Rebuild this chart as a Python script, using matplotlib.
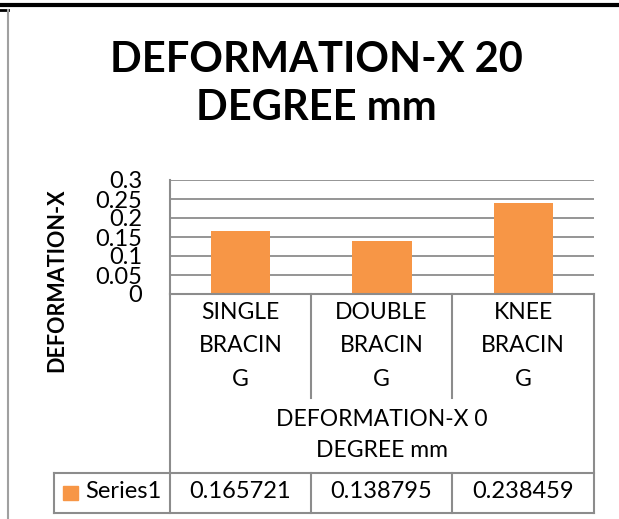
import matplotlib
matplotlib.use("Agg")
import matplotlib.pyplot as plt
from matplotlib.lines import Line2D
from matplotlib.patches import Rectangle

categories = ["SINGLE BRACING", "DOUBLE BRACING", "KNEE BRACING"]
values = [0.165721, 0.138795, 0.238459]
series_name = "Series1"
title = "DEFORMATION-X 20\nDEGREE mm"
x_title = "DEFORMATION-X 0\nDEGREE mm"
y_title = "DEFORMATION-X"
y_ticks = [0, 0.05, 0.1, 0.15, 0.2, 0.25, 0.3]

W, H = 619, 519
plt.rcParams["font.family"] = ["Lato", "DejaVu Sans"]
fig = plt.figure(figsize=(W / 100, H / 100), dpi=100)


def fx(x):
    return x / W


def fy(y):
    return 1 - y / H


def hline(x0, x1, y, color="#8c8c8c", lw=1.5):
    fig.add_artist(Line2D([fx(x0), fx(x1)], [fy(y), fy(y)], color=color, lw=lw))


def vline(x, y0, y1, color="#8c8c8c", lw=1.5):
    fig.add_artist(Line2D([fx(x), fx(x)], [fy(y0), fy(y1)], color=color, lw=lw))


def wrap_cell(text, width=6):
    # narrow cell: words that do not fit are cut into pieces
    lines = []
    for word in text.split():
        while len(word) > width:
            lines.append(word[:width])
            word = word[width:]
        lines.append(word)
    return "\n".join(lines)


orange = "#F79646"
left, right, top, bottom = 170, 594, 180, 294
ax = fig.add_axes([fx(left), fy(bottom), fx(right) - fx(left), (bottom - top) / H])
ax.bar(range(len(values)), values, width=0.42, color=orange, zorder=3)
ax.set_xlim(-0.5, len(values) - 0.5)
ax.set_ylim(0, 0.3)
ax.set_yticks(y_ticks)
ax.set_yticklabels([f"{t:g}" for t in y_ticks], fontsize=17)
ax.set_xticks([])
ax.tick_params(axis="y", length=0, pad=20)
ax.yaxis.grid(True, color="#8c8c8c", lw=1.3)
for s in ["top", "right", "bottom"]:
    ax.spines[s].set_visible(False)
ax.spines["left"].set_color("#8c8c8c")
ax.spines["left"].set_linewidth(1.5)

# frame
hline(0, W, 5, color="black", lw=3)
hline(0, 8, 10, color="black", lw=2)
vline(8, 10, H, color="#a0a0a0", lw=1.5)

fig.text(fx(316), fy(84), title, ha="center", va="center", fontsize=30,
         fontweight="bold", linespacing=1.3)
fig.text(fx(57), fy(280), y_title, ha="center", va="center", rotation=90,
         fontsize=15.5, fontweight="bold")

# data table under the axis
col_x = [170, 311, 452, 594]
row_top, cat_bottom, row_data, row_end = 294, 398, 473, 513
hline(col_x[0], col_x[-1], row_top)
hline(54, col_x[-1], row_data)
hline(54, col_x[-1], row_end)
vline(col_x[0], row_top, row_end)
vline(col_x[-1], row_top, row_end)
for x in col_x[1:-1]:
    vline(x, row_top, cat_bottom)
    vline(x, row_data, row_end)
vline(54, row_data, row_end)

for i, (cat, val) in enumerate(zip(categories, values)):
    cx = (col_x[i] + col_x[i + 1]) / 2
    fig.text(fx(cx), fy(346), wrap_cell(cat), ha="center", va="center",
             fontsize=16.5, linespacing=1.75)
    fig.text(fx(cx), fy(492), f"{val:g}", ha="center", va="center", fontsize=17)

fig.text(fx((col_x[0] + col_x[-1]) / 2), fy(435), x_title, ha="center",
         va="center", fontsize=16.5, linespacing=1.6)

fig.add_artist(Rectangle((fx(63), fy(500)), fx(15), 14 / H, color=orange))
fig.text(fx(85), fy(492), series_name, ha="left", va="center", fontsize=17)

fig.savefig("out.png", dpi=100)
